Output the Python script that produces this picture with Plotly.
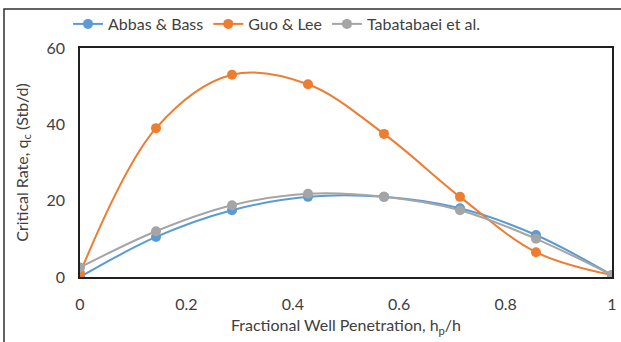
import plotly.graph_objects as go

x_vals = [0, 1/7, 2/7, 3/7, 4/7, 5/7, 6/7, 1]
abbas = [0.0, 10.5, 17.5, 21.0, 21.0, 18.0, 11.0, 0.5]
guo = [1.0, 39.0, 53.0, 50.5, 37.5, 21.0, 6.5, 0.5]
taba = [2.5, 12.0, 18.8, 21.8, 21.0, 17.5, 10.0, 0.5]
names = ["Abbas & Bass", "Guo & Lee", "Tabatabaei et al."]
colors = ["#5B9BD5", "#ED7D31", "#A5A5A5"]

fig = go.Figure()
for name, ys, c in zip(names, [abbas, guo, taba], colors):
    fig.add_trace(go.Scatter(x=x_vals, y=ys, name=name, mode="lines+markers",
                             line=dict(color=c, width=2, shape="spline", smoothing=1.0),
                             marker=dict(color=c, size=10)))

font = "Lato, 'Open Sans', sans-serif"
PL, PT, PB = 80, 48, 277
PW, PH = 612 - PL, PB - PT
fig.update_layout(
    width=621, height=342,
    margin=dict(l=PL, r=621 - 612, t=PT, b=342 - PB, autoexpand=False),
    paper_bgcolor="white", plot_bgcolor="white",
    font=dict(family=font, size=16, color="#404040"),
    showlegend=True,
    legend=dict(orientation="h", x=(68 - PL) / PW, xanchor="left", y=(PB - 24) / PH,
                yanchor="middle", bgcolor="rgba(0,0,0,0)",
                font=dict(size=16, color="#404040"), traceorder="normal"),
    xaxis=dict(range=[0, 1], tickvals=[0, 0.2, 0.4, 0.6, 0.8, 1],
               ticktext=["0", "0.2", "0.4", "0.6", "0.8", "1"], automargin=False,
               showgrid=False, zeroline=False, showline=True, linecolor="#202020",
               linewidth=1.5, mirror=True, ticks="", ticklabelstandoff=12,
               title=dict(text="Fractional Well Penetration, h<sub>p</sub>/h", standoff=8,
                          font=dict(size=16))),
    yaxis=dict(range=[0, 60], tickvals=[0, 20, 40, 60], showgrid=False, zeroline=False,
               showline=True, linecolor="#202020", linewidth=1.5, mirror=True, ticks="",
               ticklabelstandoff=10, automargin=False,
               title=dict(text="Critical Rate, q<sub>c</sub> (Stb/d)", standoff=14,
                          font=dict(size=16))),
)
fig.add_shape(type="rect", xref="paper", yref="paper",
              x0=(4 - PL) / PW, x1=(640 - PL) / PW,
              y0=(PB - 360) / PH, y1=(PB - 9) / PH,
              line=dict(color="#303030", width=1.5), layer="below")
fig.write_html("out.html")
